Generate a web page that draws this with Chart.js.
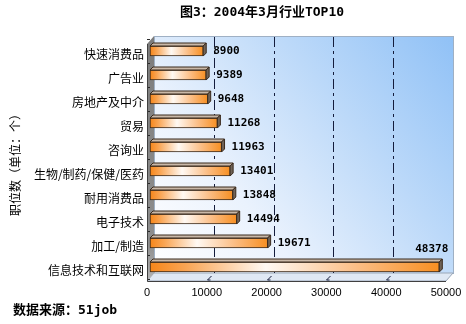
<!DOCTYPE html>
<html>
<head>
<meta charset="utf-8">
<script src="https://cdn.jsdelivr.net/npm/chart.js@4.4.1/dist/chart.umd.min.js"></script>
<style>
  html, body { margin: 0; padding: 0; background: #fff; }
  #wrap { width: 466px; height: 324px; }
</style>
</head>
<body>
<div id="wrap"><canvas id="c" width="466" height="324"></canvas></div>
<script>
// Chart texts
const chartTitle = '图3：2004年3月行业TOP10';
const sourceNote = '数据来源：51job';
const axisTitle = '职位数（单位：个）';

// Industries, top to bottom, with job posting counts
const industries = ['快速消费品', '广告业', '房地产及中介', '贸易', '咨询业',
  '生物/制药/保健/医药', '耐用消费品', '电子技术', '加工/制造', '信息技术和互联网'];
const postings = [8900, 9389, 9648, 11268, 11963, 13401, 13848, 14494, 19671, 48378];

// Value axis ticks
const tickValues = [0, 10000, 20000, 30000, 40000, 50000];

// 3D box depth and bar placement inside it
const DEPTH_X = 7, DEPTH_Y = 8;
const SHIFT_X = 3, SHIFT_Y = -3;
const CAP = 3;

const CJK = '"Noto Sans CJK SC"';
const MONO_CJK = '"DejaVu Sans Mono", "Noto Sans CJK SC"';

function boxGeometry(chart) {
  const a = chart.chartArea;
  const xs = chart.scales.x;
  const left = xs.getPixelForValue(tickValues[0]);
  const right = xs.getPixelForValue(tickValues[tickValues.length - 1]);
  const fTop = a.top + 2, fBot = a.bottom - 1;
  return { left, right, fTop, fBot, bTop: fTop - DEPTH_Y, bBot: fBot - DEPTH_Y,
           bl: left + DEPTH_X, br: right + DEPTH_X };
}

const box3d = {
  id: 'box3d',
  beforeDraw(chart) {
    const ctx = chart.ctx;
    const g = boxGeometry(chart);
    const xs = chart.scales.x;
    ctx.save();
    ctx.fillStyle = '#ffffff';
    ctx.fillRect(0, 0, chart.width, chart.height);

    // back wall
    const wall = ctx.createLinearGradient(g.bl, g.bBot, g.br, g.bTop);
    wall.addColorStop(0, '#ffffff');
    wall.addColorStop(0.3, '#eaf2fd');
    wall.addColorStop(0.65, '#bcd9f9');
    wall.addColorStop(1, '#90c1f6');
    ctx.fillStyle = wall;
    ctx.fillRect(g.bl, g.bTop, g.br - g.bl, g.bBot - g.bTop);
    ctx.strokeStyle = '#9fb0c4';
    ctx.lineWidth = 1;
    ctx.strokeRect(Math.round(g.bl) + 0.5, Math.round(g.bTop) + 0.5,
                   Math.round(g.br - g.bl), Math.round(g.bBot - g.bTop));

    // floor
    ctx.beginPath();
    ctx.moveTo(g.left, g.fBot);
    ctx.lineTo(g.right, g.fBot);
    ctx.lineTo(g.br, g.bBot);
    ctx.lineTo(g.bl, g.bBot);
    ctx.closePath();
    ctx.fillStyle = '#dfe8f4';
    ctx.fill();
    ctx.strokeStyle = '#9aa7b8';
    ctx.stroke();

    // left side wall
    const side = ctx.createLinearGradient(0, g.bTop, 0, g.fBot);
    side.addColorStop(0, '#7c7c7c');
    side.addColorStop(0.85, '#8e8e8e');
    side.addColorStop(1, '#b4b4b4');
    ctx.beginPath();
    ctx.moveTo(g.left, g.fTop);
    ctx.lineTo(g.bl, g.bTop);
    ctx.lineTo(g.bl, g.bBot);
    ctx.lineTo(g.left, g.fBot);
    ctx.closePath();
    ctx.fillStyle = side;
    ctx.fill();

    // category ticks on the side wall
    const ys = chart.scales.y;
    ctx.strokeStyle = '#2a2a2a';
    for (let i = 0; i <= industries.length; i++) {
      const yb = Math.round(ys.getPixelForValue(i - 0.5)) + 0.5 - 3;
      ctx.beginPath();
      ctx.moveTo(g.left, yb);
      ctx.lineTo(g.left + 3, yb);
      ctx.stroke();
    }

    // front axis lines
    ctx.strokeStyle = '#404040';
    ctx.beginPath();
    ctx.moveTo(Math.round(g.left) + 0.5, g.fTop);
    ctx.lineTo(Math.round(g.left) + 0.5, g.fBot + 0.5);
    ctx.lineTo(g.right, g.fBot + 0.5);
    ctx.stroke();

    // dash-dot gridlines on the back wall and their floor traces
    ctx.strokeStyle = '#141c3c';
    tickValues.slice(1, -1).forEach(v => {
      const px = Math.round(xs.getPixelForValue(v)) + 0.5;
      ctx.setLineDash([10, 4, 3, 4]);
      ctx.beginPath();
      ctx.moveTo(px + DEPTH_X, g.bTop + 1);
      ctx.lineTo(px + DEPTH_X, g.bBot);
      ctx.stroke();
      ctx.setLineDash([]);
      ctx.beginPath();
      ctx.moveTo(px + DEPTH_X - 3, g.bBot + 3);
      ctx.lineTo(px, g.fBot - 1);
      ctx.lineTo(px + 3, g.fBot - 1);
      ctx.stroke();
    });
    ctx.restore();
  },
  beforeDatasetsDraw(chart) {
    chart.ctx.save();
    chart.ctx.translate(SHIFT_X, SHIFT_Y);
  },
  afterDatasetsDraw(chart) {
    const ctx = chart.ctx;
    ctx.lineWidth = 1;
    chart.getDatasetMeta(0).data.forEach(bar => {
      const { x, y, base, height } = bar.getProps(['x', 'y', 'base', 'height'], true);
      const t = y - height / 2, b = y + height / 2;
      // top face
      ctx.beginPath();
      ctx.moveTo(base, t);
      ctx.lineTo(x, t);
      ctx.lineTo(x + CAP, t - CAP);
      ctx.lineTo(base + CAP, t - CAP);
      ctx.closePath();
      ctx.fillStyle = '#c9b8a8';
      ctx.fill();
      ctx.strokeStyle = '#3a2a1c';
      ctx.stroke();
      // end face
      ctx.beginPath();
      ctx.moveTo(x, t);
      ctx.lineTo(x + CAP, t - CAP);
      ctx.lineTo(x + CAP, b - CAP);
      ctx.lineTo(x, b);
      ctx.closePath();
      ctx.fillStyle = '#6f6358';
      ctx.fill();
      ctx.stroke();
    });
    ctx.restore();
  },
  afterDraw(chart) {
    const ctx = chart.ctx;
    const g = boxGeometry(chart);
    ctx.save();
    // value labels
    ctx.font = 'bold 11px "DejaVu Sans Mono"';
    ctx.fillStyle = '#000';
    ctx.textBaseline = 'middle';
    chart.getDatasetMeta(0).data.forEach((bar, i) => {
      const { x, y } = bar.getProps(['x', 'y'], true);
      const txt = String(postings[i]);
      const w = ctx.measureText(txt).width;
      const end = x + SHIFT_X + CAP;
      const cy = y + SHIFT_Y;
      if (end + 7 + w > g.br) {
        ctx.textAlign = 'right';
        ctx.fillText(txt, end + 6, cy - 18);
      } else {
        ctx.textAlign = 'left';
        ctx.fillText(txt, end + 7, cy);
      }
    });
    // heading
    ctx.textAlign = 'center';
    ctx.font = 'bold 13px ' + MONO_CJK;
    ctx.fillText(chartTitle, 262, 13);
    // source line
    ctx.textAlign = 'left';
    ctx.fillText(sourceNote, 13, 311);
    ctx.restore();
  }
};

function barGradient(context) {
  const chart = context.chart;
  if (!chart.chartArea || context.type !== 'data') return '#f7901e';
  const xs = chart.scales.x;
  const x0 = xs.getPixelForValue(0);
  const x1 = xs.getPixelForValue(context.raw);
  const gr = chart.ctx.createLinearGradient(x0, 0, x1, 0);
  gr.addColorStop(0, '#f6861a');
  gr.addColorStop(0.12, '#f9a452');
  gr.addColorStop(0.4, '#fff9f3');
  gr.addColorStop(0.72, '#fbbd84');
  gr.addColorStop(1, '#f78f22');
  return gr;
}

new Chart(document.getElementById('c'), {
  type: 'bar',
  data: {
    labels: industries,
    datasets: [{
      data: postings,
      backgroundColor: barGradient,
      borderColor: '#3a2a1c',
      borderWidth: 1,
      borderSkipped: false,
      barThickness: 10,
      clip: false
    }]
  },
  plugins: [box3d],
  options: {
    indexAxis: 'y',
    responsive: false,
    animation: false,
    layout: { padding: { top: 42, right: 20, bottom: 0, left: 0 } },
    plugins: {
      legend: { display: false },
      tooltip: { enabled: false },
      title: { display: false }
    },
    scales: {
      x: {
        position: 'bottom',
        min: tickValues[0],
        max: tickValues[tickValues.length - 1],
        afterBuildTicks(scale) { scale.ticks = tickValues.map(v => ({ value: v })); },
        afterFit(scale) { scale.height = 42; },
        grid: { display: false, drawTicks: false },
        border: { display: false },
        ticks: {
          color: '#000',
          padding: 4,
          maxRotation: 0,
          callback: v => String(v),
          font: { family: '"Liberation Sans"', size: 11 }
        }
      },
      y: {
        afterFit(scale) { scale.width = 147; },
        grid: { display: false, drawTicks: false },
        border: { display: false },
        ticks: {
          color: '#000',
          padding: 3,
          font: { family: CJK, size: 12 }
        },
        title: {
          display: true,
          text: axisTitle,
          color: '#000',
          padding: { top: 8, bottom: 0 },
          font: { family: CJK, size: 12 }
        }
      }
    }
  }
});
</script>
</body>
</html>
